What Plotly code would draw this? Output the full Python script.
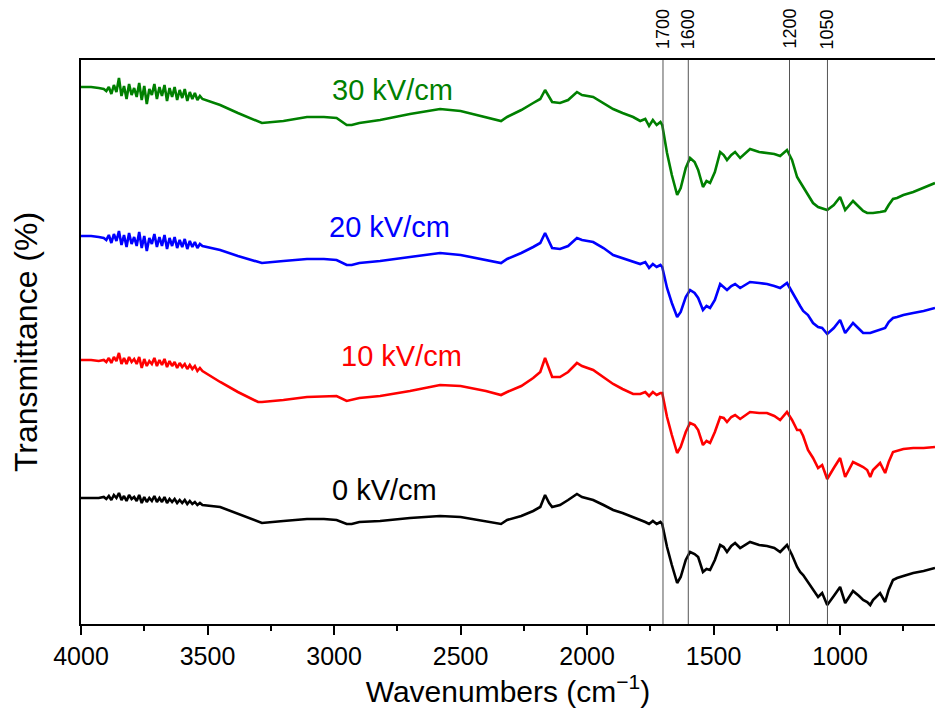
import plotly.graph_objects as go

# Wavenumber grid (cm^-1)
wavenumber = [4000, 3960, 3930,
    3910, 3900, 3890, 3880, 3870, 3860, 3850, 3840, 3830, 3820,
    3810, 3800, 3790, 3780, 3770, 3760, 3750, 3740, 3730, 3720,
    3710, 3700, 3690, 3680, 3670, 3660, 3650, 3640, 3630, 3620,
    3610, 3600, 3590, 3580, 3570, 3560, 3550, 3540, 3530, 3520,
    3450, 3380, 3300, 3285, 3200, 3107, 3040, 2990, 2950, 2930,
    2900, 2818, 2700, 2581, 2500, 2400, 2356, 2340, 2316, 2260,
    2213, 2185, 2166, 2150, 2138, 2107, 2075, 2040, 2020, 1976,
    1935, 1897, 1860, 1818, 1790, 1770, 1755, 1740, 1725, 1710,
    1703, 1684, 1665, 1644, 1630, 1610, 1593, 1575, 1561, 1542,
    1528, 1514, 1495, 1474, 1460, 1447, 1430, 1415, 1395, 1375,
    1356, 1320, 1289, 1260, 1237, 1210, 1190, 1170, 1158, 1146,
    1127, 1107, 1087, 1071, 1051, 1025, 1000, 980, 965, 949,
    925, 909, 893, 881, 870, 842, 822, 808, 791, 775,
    750, 711, 670, 625]

# Offset transmittance (arbitrary units) for each field strength
t_30 = [537, 537, 536,
    535, 533, 537, 530, 539, 532, 546, 528, 538, 525,
    540, 529, 536, 527, 541, 524, 538, 520, 535, 529,
    540, 525, 537, 528, 539, 523, 536, 527, 537, 524,
    534, 526, 535, 523, 532, 525, 531, 524, 528, 525,
    519, 511, 502, 501, 503, 507, 507, 506, 499, 499,
    501, 504, 510, 515, 513, 507, 504, 503, 507, 514,
    521, 525, 534, 527, 522, 521, 524, 532, 529, 527,
    521, 515, 511, 507, 503, 505, 498, 504, 499, 502,
    499, 471, 449, 429, 436, 456, 466, 462, 454, 437,
    443, 441, 452, 472, 469, 464, 469, 472, 466, 471,
    475, 472, 471, 470, 468, 474, 464, 447, 442, 437,
    429, 421, 417, 416, 414, 419, 427, 414, 418, 423,
    417, 413, 411, 411, 411, 412, 413, 419, 425, 426,
    429, 432, 436, 441]

t_20 = [388, 388, 387,
    386, 384, 389, 381, 390, 383, 393, 379, 389, 377,
    391, 380, 387, 378, 392, 376, 388, 373, 386, 380,
    390, 377, 387, 378, 389, 375, 386, 378, 387, 376,
    384, 377, 385, 375, 383, 377, 382, 376, 380, 378,
    374, 368, 362, 361, 363, 365, 365, 364, 359, 359,
    361, 363, 367, 371, 369, 364, 362, 361, 365, 371,
    377, 381, 391, 382, 376, 375, 378, 386, 384, 382,
    376, 369, 366, 362, 360, 362, 356, 360, 357, 359,
    357, 336, 321, 307, 312, 327, 334, 331, 326, 314,
    318, 316, 324, 340, 337, 334, 338, 340, 336, 339,
    342, 341, 340, 338, 336, 341, 332, 322, 318, 313,
    309, 301, 297, 296, 290, 296, 304, 291, 296, 301,
    295, 291, 291, 291, 292, 294, 296, 302, 306, 307,
    309, 311, 313, 316]

t_10 = [264, 264, 263,
    264, 262, 266, 261, 267, 263, 271, 260, 266, 260,
    267, 262, 265, 260, 267, 256, 265, 258, 263, 260,
    266, 258, 264, 259, 265, 257, 263, 258, 262, 256,
    261, 257, 260, 255, 259, 255, 258, 253, 256, 253,
    242, 232, 222, 222, 224, 227, 228, 228, 223, 224,
    226, 228, 233, 239, 238, 233, 230, 229, 232, 238,
    246, 252, 266, 254, 247, 247, 252, 261, 258, 254,
    247, 240, 235, 230, 230, 232, 228, 232, 229, 231,
    231, 207, 189, 171, 177, 192, 201, 199, 194, 179,
    183, 181, 192, 207, 206, 202, 207, 209, 205, 209,
    212, 211, 211, 208, 204, 212, 204, 194, 194, 188,
    174, 166, 156, 159, 145, 156, 166, 147, 154, 162,
    159, 157, 154, 147, 154, 161, 151, 162, 172, 173,
    175, 176, 176, 177]

t_0 = [126, 126, 126,
    127, 125, 128, 124, 129, 126, 131, 124, 128, 123,
    129, 125, 127, 123, 129, 121, 127, 122, 126, 123,
    128, 122, 126, 122, 127, 121, 125, 122, 125, 121,
    124, 121, 124, 120, 123, 120, 122, 119, 121, 119,
    117, 110, 102, 101, 103, 105, 105, 104, 100, 100,
    102, 103, 106, 108, 107, 103, 101, 100, 104, 108,
    113, 117, 129, 121, 117, 119, 124, 130, 127, 124,
    119, 114, 111, 107, 104, 102, 100, 103, 100, 102,
    100, 77, 59, 41, 47, 64, 72, 70, 67, 52,
    55, 54, 64, 79, 77, 72, 78, 81, 76, 79,
    82, 79, 78, 76, 72, 79, 69, 57, 52, 49,
    42, 34, 27, 31, 19, 28, 37, 21, 27, 33,
    28, 24, 22, 19, 24, 31, 22, 34, 44, 46,
    48, 51, 53, 56]

series_names = ["30 kV/cm", "20 kV/cm", "10 kV/cm", "0 kV/cm"]
series_values = [t_30, t_20, t_10, t_0]
series_colors = ["#008000", "#0000FF", "#FF0000", "#000000"]
label_x = [2767, 2779, 2735, 2802]
label_y = [534, 397, 268, 134]

marker_lines = [1700, 1600, 1200, 1050]
x_ticks = [4000, 3500, 3000, 2500, 2000, 1500, 1000]
x_minor = [3750, 3250, 2750, 2250, 1750, 1250, 750]

FONT = "Liberation Sans, Arial, sans-serif"

fig = go.Figure()
for name, vals, col in zip(series_names, series_values, series_colors):
    fig.add_trace(go.Scatter(x=wavenumber, y=vals, mode="lines", name=name,
                             line=dict(color=col, width=2.6), showlegend=False))

for name, col, lx, ly in zip(series_names, series_colors, label_x, label_y):
    fig.add_annotation(x=lx, y=ly, text=name, showarrow=False,
                       font=dict(family=FONT, size=29, color=col))

for wn in marker_lines:
    fig.add_shape(type="line", x0=wn, x1=wn, y0=0, y1=1, xref="x", yref="paper",
                  line=dict(color="#555555", width=1))
    fig.add_annotation(x=wn, y=1, xref="x", yref="paper", text=str(wn), textangle=-90,
                       showarrow=False, yanchor="bottom", yshift=9,
                       font=dict(family=FONT, size=18, color="black"))

fig.update_layout(
    width=935, height=715,
    margin=dict(l=81, r=0, t=60, b=91),
    plot_bgcolor="white", paper_bgcolor="white",
    font=dict(family=FONT, color="black"),
    xaxis=dict(range=[4000, 625], tickvals=x_ticks, ticks="outside", ticklen=9, tickwidth=2,
               tickcolor="black", showline=True, linecolor="black", linewidth=2, mirror=True,
               showgrid=False, zeroline=False, tickfont=dict(size=25),
               minor=dict(tickvals=x_minor, ticks="outside", ticklen=5, tickwidth=2, tickcolor="black"),
               title=dict(text="Wavenumbers (cm<sup>\u22121</sup>)", font=dict(size=30), standoff=10)),
    yaxis=dict(range=[0, 564], showticklabels=False, ticks="", showline=True, linecolor="black",
               linewidth=2, showgrid=False, zeroline=False,
               title=dict(text="Transmittance (%)", font=dict(size=32), standoff=32)),
)

fig.write_html("out.html")
